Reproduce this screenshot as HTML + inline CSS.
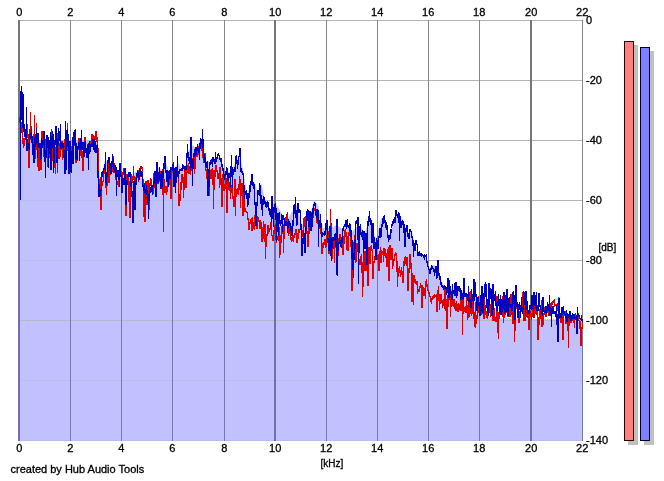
<!DOCTYPE html>
<html><head><meta charset="utf-8"><title>Spectrum</title><style>
html,body{margin:0;padding:0;background:#fff;}
body{width:664px;height:481px;overflow:hidden;}
svg{display:block;}
.t{font-family:"Liberation Sans",Arial,sans-serif;font-size:11px;fill:#000;stroke:#000;stroke-width:0.3px;}
.u{font-family:"Liberation Sans",Arial,sans-serif;font-size:10px;fill:#000;stroke:#000;stroke-width:0.3px;}
</style></head><body>
<svg width="664" height="481" viewBox="0 0 664 481" shape-rendering="crispEdges">
<rect width="664" height="481" fill="#fff"/>
<line x1="19" y1="20.5" x2="583" y2="20.5" stroke="#b4b4b4"/>
<line x1="19" y1="80.5" x2="583" y2="80.5" stroke="#b4b4b4"/>
<line x1="19" y1="140.5" x2="583" y2="140.5" stroke="#b4b4b4"/>
<line x1="19" y1="200.5" x2="583" y2="200.5" stroke="#b4b4b4"/>
<line x1="19" y1="260.5" x2="583" y2="260.5" stroke="#b4b4b4"/>
<line x1="19" y1="320.5" x2="583" y2="320.5" stroke="#b4b4b4"/>
<line x1="19" y1="380.5" x2="583" y2="380.5" stroke="#b4b4b4"/>
<line x1="19" y1="440.5" x2="583" y2="440.5" stroke="#b4b4b4"/>
<line x1="19" y1="20" x2="19" y2="441" stroke="#787878" stroke-width="2"/>
<line x1="70.5" y1="20" x2="70.5" y2="441" stroke="#888" stroke-width="1"/>
<line x1="121.5" y1="20" x2="121.5" y2="441" stroke="#888" stroke-width="1"/>
<line x1="172.5" y1="20" x2="172.5" y2="441" stroke="#888" stroke-width="1"/>
<line x1="224.5" y1="20" x2="224.5" y2="441" stroke="#888" stroke-width="1"/>
<line x1="275" y1="20" x2="275" y2="441" stroke="#787878" stroke-width="2"/>
<line x1="326.5" y1="20" x2="326.5" y2="441" stroke="#888" stroke-width="1"/>
<line x1="377.5" y1="20" x2="377.5" y2="441" stroke="#888" stroke-width="1"/>
<line x1="428.5" y1="20" x2="428.5" y2="441" stroke="#888" stroke-width="1"/>
<line x1="479.5" y1="20" x2="479.5" y2="441" stroke="#888" stroke-width="1"/>
<line x1="531" y1="20" x2="531" y2="441" stroke="#787878" stroke-width="2"/>
<line x1="582.5" y1="20" x2="582.5" y2="441" stroke="#888" stroke-width="1"/>
<clipPath id="fc"><polygon points="18,441 18,140 19,140 19.5,140 20,140 20.5,140 21,140 21.5,140 22,140 22.5,140 23,140 23.5,140 24,140 24.5,140 25,140 25.5,140 26,140 26.5,140 27,140 27.5,140 28,140 28.5,140 29,140 29.5,140 30,140 30.5,140 31,140 31.5,140 32,140 32.5,140 33,140 33.5,140 34,140 34.5,140 35,140 35.5,140 36,140 36.5,140 37,140 37.5,140 38,140 38.5,140 39,140 39.5,140 40,140 40.5,140 41,140 41.5,140 42,140 42.5,140 43,140 43.5,140 44,140 44.5,140 45,140 45.5,140 46,140 46.5,140 47,140 47.5,140 48,140 48.5,140 49,140 49.5,140 50,140 50.5,140 51,140 51.5,140 52,140 52.5,140 53,140 53.5,140 54,140 54.5,140 55,140 55.5,140 56,140 56.5,140 57,140 57.5,140 58,140 58.5,140 59,140 59.5,140 60,140 60.5,140 61,140 61.5,140 62,140 62.5,140 63,140 63.5,140 64,140 64.5,140 65,140 65.5,140 66,140 66.5,140 67,140 67.5,140 68,140 68.5,140 69,140 69.5,140 70,140 70.5,140 71,140 71.5,140 72,140 72.5,140 73,140 73.5,140 74,140 74.5,140 75,140 75.5,140 76,140 76.5,140 77,140 77.5,140 78,140 78.5,140 79,140 79.5,140 80,140 80.5,140 81,140 81.5,140 82,140 82.5,140 83,140 83.5,140 84,140 84.5,140 85,140 85.5,140 86,140 86.5,140 87,140 87.5,140 88,140 88.5,140 89,140 89.5,140 90,140 90.5,140 91,140 91.5,140 92,140 92.5,140 93,140 93.5,140 94,140 94.5,140 95,140 95.5,140 96,140 96.5,140 97,140 97.5,145 98,150 98.5,157.5 99,165 99.5,172.5 100,180 100.5,178 101,176 101.5,174 102,172 102.5,170 103,168 103.5,166 104,164 104.5,162 105,160 105.5,160.5 106,161 106.5,161.5 107,162 107.5,162.5 108,163 108.5,163.5 109,164 109.5,164.5 110,165 110.5,165.4 111,165.9 111.5,166.3 112,166.8 112.5,167.2 113,167.6 113.5,168.1 114,168.5 114.5,168.9 115,169.4 115.5,169.8 116,170.2 116.5,170.7 117,171.1 117.5,171.6 118,172 118.5,172.2 119,172.4 119.5,172.6 120,172.9 120.5,173.1 121,173.3 121.5,173.5 122,173.7 122.5,173.9 123,174.1 123.5,174.4 124,174.6 124.5,174.8 125,175 125.5,175.3 126,175.6 126.5,175.9 127,176.2 127.5,176.5 128,176.8 128.5,177.1 129,177.4 129.5,177.7 130,178 130.5,177.4 131,176.8 131.5,176.2 132,175.6 132.5,175 133,174.4 133.5,173.8 134,173.2 134.5,172.6 135,172 135.5,172 136,172 136.5,172 137,172 137.5,172 138,172 138.5,172 139,172 139.5,172 140,172 140.5,173.5 141,175 141.5,176.5 142,178 142.5,179.5 143,181 143.5,182.5 144,184 144.5,185.5 145,187 145.5,187.5 146,188 146.5,188.5 147,189 147.5,189.5 148,190 148.5,190.5 149,191 149.5,191.5 150,192 150.5,190.5 151,189 151.5,187.5 152,186 152.5,184.5 153,183 153.5,181.5 154,180 154.5,177.8 155,175.7 155.5,173.5 156,171.3 156.5,169.2 157,167 157.5,167.3 158,167.6 158.5,167.9 159,168.2 159.5,168.5 160,168.8 160.5,169.1 161,169.4 161.5,169.7 162,170 162.5,169 163,168 163.5,167 164,166 164.5,165 165,164 165.5,163 166,162 166.5,163.6 167,165.2 167.5,166.9 168,168.5 168.5,170.1 169,171.8 169.5,173.4 170,175 170.5,174.4 171,173.8 171.5,173.1 172,172.5 172.5,171.9 173,171.2 173.5,170.6 174,170 174.5,169 175,168 175.5,167 176,166 176.5,165 177,164 177.5,163 178,162 178.5,163 179,164 179.5,165 180,166 180.5,167 181,168 181.5,169 182,170 182.5,169.4 183,168.8 183.5,168.1 184,167.5 184.5,166.9 185,166.2 185.5,165.6 186,165 186.5,161.8 187,158.5 187.5,155.2 188,152 188.5,151.1 189,150.2 189.5,149.4 190,148.5 190.5,147.6 191,146.8 191.5,145.9 192,145 192.5,145.4 193,145.8 193.5,146.1 194,146.5 194.5,146.9 195,147.2 195.5,147.6 196,148 196.5,147.2 197,146.3 197.5,145.5 198,144.7 198.5,143.8 199,143 199.5,142.2 200,141.3 200.5,140.5 201,139.7 201.5,138.8 202,138 202.5,141.7 203,145.3 203.5,149 204,152.7 204.5,156.3 205,160 205.5,160.2 206,160.4 206.5,160.6 207,160.8 207.5,161 208,161.2 208.5,161.4 209,161.6 209.5,161.8 210,162 210.5,161.6 211,161.2 211.5,160.8 212,160.3 212.5,159.9 213,159.5 213.5,159.1 214,158.7 214.5,158.2 215,157.8 215.5,157.4 216,157 216.5,157 217,157 217.5,157 218,157 218.5,157 219,157 219.5,157 220,157 220.5,158.5 221,160 221.5,161.5 222,163 222.5,164.5 223,166 223.5,167.5 224,169 224.5,170.5 225,172 225.5,172 226,172 226.5,172 227,172 227.5,172 228,172 228.5,172 229,172 229.5,172 230,172 230.5,171.2 231,170.3 231.5,169.5 232,168.7 232.5,167.8 233,167 233.5,166.2 234,165.3 234.5,164.5 235,163.7 235.5,162.8 236,162 236.5,161.1 237,160.2 237.5,159.4 238,158.5 238.5,157.6 239,156.8 239.5,155.9 240,155 240.5,157.5 241,160 241.5,162.5 242,165 242.5,167.5 243,170 243.5,172.5 244,175 244.5,178.3 245,181.7 245.5,185 246,188.3 246.5,191.7 247,195 247.5,193.5 248,192 248.5,190.5 249,189 249.5,187.5 250,186 250.5,184.5 251,183 251.5,181.5 252,180 252.5,180.5 253,181 253.5,181.5 254,182 254.5,182.5 255,183 255.5,185 256,187 256.5,189 257,191 257.5,193 258,195 258.5,192.8 259,190.7 259.5,188.5 260,186.3 260.5,184.2 261,182 261.5,184.2 262,186.5 262.5,188.8 263,191 263.5,193.2 264,195.5 264.5,197.8 265,200 265.5,201 266,202 266.5,203 267,204 267.5,205 268,206 268.5,207 269,208 269.5,209 270,210 270.5,209 271,208 271.5,207 272,206 272.5,205 273,204 273.5,203 274,202 274.5,202.7 275,203.3 275.5,204 276,204.7 276.5,205.3 277,206 277.5,206.7 278,207.3 278.5,208 279,208.7 279.5,209.3 280,210 280.5,211 281,212 281.5,213 282,214 282.5,215 283,216 283.5,217 284,218 284.5,219 285,220 285.5,221 286,222 286.5,221.1 287,220.3 287.5,219.4 288,218.6 288.5,217.7 289,216.9 289.5,216 290,215.1 290.5,214.3 291,213.4 291.5,212.6 292,211.7 292.5,210.9 293,210 293.5,209.4 294,208.8 294.5,208.1 295,207.5 295.5,206.9 296,206.2 296.5,205.6 297,205 297.5,207 298,209 298.5,211 299,213 299.5,215 300,217 300.5,219 301,221 301.5,223 302,225 302.5,224.4 303,223.8 303.5,223.1 304,222.5 304.5,221.9 305,221.2 305.5,220.6 306,220 306.5,219.4 307,218.8 307.5,218.1 308,217.5 308.5,216.9 309,216.2 309.5,215.6 310,215 310.5,213.1 311,211.2 311.5,209.4 312,207.5 312.5,205.6 313,203.8 313.5,201.9 314,200 314.5,200.6 315,201.2 315.5,201.9 316,202.5 316.5,203.1 317,203.8 317.5,204.4 318,205 318.5,207.3 319,209.6 319.5,211.9 320,214.2 320.5,216.5 321,218.8 321.5,221.1 322,223.4 322.5,225.7 323,228 323.5,228 324,228 324.5,228 325,228 325.5,228 326,228 326.5,228 327,228 327.5,228 328,228 328.5,228 329,228 329.5,228 330,228 330.5,227.8 331,227.6 331.5,227.4 332,227.1 332.5,226.9 333,226.7 333.5,226.5 334,226.3 334.5,226.1 335,225.9 335.5,225.6 336,225.4 336.5,225.2 337,225 337.5,225.4 338,225.8 338.5,226.2 339,226.7 339.5,227.1 340,227.5 340.5,227.9 341,228.3 341.5,228.8 342,229.2 342.5,229.6 343,230 343.5,229 344,228 344.5,227 345,226 345.5,225 346,224 346.5,223 347,222 347.5,223 348,224 348.5,225 349,226 349.5,227 350,228 350.5,229 351,230 351.5,231 352,232 352.5,231.4 353,230.8 353.5,230.2 354,229.7 354.5,229.1 355,228.5 355.5,227.9 356,227.3 356.5,226.8 357,226.2 357.5,225.6 358,225 358.5,225.5 359,226 359.5,226.5 360,227 360.5,227.5 361,228 361.5,228.5 362,229 362.5,229.5 363,230 363.5,230.5 364,231 364.5,231.5 365,232 365.5,230.6 366,229.2 366.5,227.8 367,226.4 367.5,225 368,223.6 368.5,222.2 369,220.8 369.5,219.4 370,218 370.5,219.8 371,221.7 371.5,223.5 372,225.3 372.5,227.2 373,229 373.5,230.8 374,232.7 374.5,234.5 375,236.3 375.5,238.2 376,240 376.5,237.8 377,235.6 377.5,233.4 378,231.2 378.5,229 379,226.8 379.5,224.6 380,222.4 380.5,220.2 381,218 381.5,218.4 382,218.8 382.5,219.2 383,219.6 383.5,220 384,220.4 384.5,220.8 385,221.2 385.5,221.6 386,222 386.5,224.2 387,226.3 387.5,228.5 388,230.7 388.5,232.8 389,235 389.5,233.7 390,232.4 390.5,231.1 391,229.8 391.5,228.5 392,227.2 392.5,225.9 393,224.6 393.5,223.3 394,222 394.5,220.3 395,218.7 395.5,217 396,215.3 396.5,213.7 397,212 397.5,213 398,214 398.5,215 399,216 399.5,217 400,218 400.5,218.3 401,218.7 401.5,219 402,219.3 402.5,219.7 403,220 403.5,221.5 404,223 404.5,224.5 405,226 405.5,227.5 406,229 406.5,230.5 407,232 407.5,233.5 408,235 408.5,234.4 409,233.8 409.5,233.1 410,232.5 410.5,231.9 411,231.2 411.5,230.6 412,230 412.5,233 413,236 413.5,239 414,242 414.5,245 415,248 415.5,248.6 416,249.2 416.5,249.8 417,250.3 417.5,250.9 418,251.5 418.5,252.1 419,252.7 419.5,253.2 420,253.8 420.5,254.4 421,255 421.5,255.1 422,255.2 422.5,255.3 423,255.4 423.5,255.5 424,255.6 424.5,255.7 425,255.8 425.5,255.9 426,256 426.5,258 427,260 427.5,262 428,264 428.5,266 429,268 429.5,267.5 430,267 430.5,266.5 431,266 431.5,265.5 432,265 432.5,265.1 433,265.2 433.5,265.3 434,265.4 434.5,265.5 435,265.6 435.5,265.7 436,265.8 436.5,265.9 437,266 437.5,267.6 438,269.2 438.5,270.8 439,272.4 439.5,274 440,275.6 440.5,277.2 441,278.8 441.5,280.4 442,282 442.5,282.6 443,283.2 443.5,283.8 444,284.4 444.5,285 445,285.6 445.5,286.2 446,286.8 446.5,287.4 447,288 447.5,288.1 448,288.2 448.5,288.4 449,288.5 449.5,288.6 450,288.8 450.5,288.9 451,289 451.5,289.1 452,289.2 452.5,289.4 453,289.5 453.5,289.6 454,289.8 454.5,289.9 455,290 455.5,290 456,290 456.5,290 457,290 457.5,290 458,290 458.5,290 459,290 459.5,290 460,290 460.5,290 461,290 461.5,290 462,290 462.5,290.7 463,291.3 463.5,292 464,292.7 464.5,293.3 465,294 465.5,294.7 466,295.3 466.5,296 467,296.7 467.5,297.3 468,298 468.5,297.8 469,297.6 469.5,297.4 470,297.1 470.5,296.9 471,296.7 471.5,296.5 472,296.3 472.5,296.1 473,295.9 473.5,295.6 474,295.4 474.5,295.2 475,295 475.5,296 476,297 476.5,298 477,299 477.5,300 478,301 478.5,302 479,303 479.5,304 480,305 480.5,305.9 481,306.8 481.5,307.7 482,308.6 482.5,309.5 483,310.4 483.5,311.3 484,312.2 484.5,313.1 485,314 485.5,314.2 486,314.4 486.5,314.6 487,314.8 487.5,315 488,315.2 488.5,315.4 489,315.6 489.5,315.8 490,316 490.5,316.2 491,316.4 491.5,316.6 492,316.8 492.5,317 493,317.2 493.5,317.4 494,317.6 494.5,317.8 495,318 495.5,318 496,318 496.5,318 497,318 497.5,318.1 498,318.1 498.5,318.1 499,318.1 499.5,318.1 500,318.1 500.5,318.1 501,318.1 501.5,318.1 502,318.2 502.5,318.2 503,318.2 503.5,318.2 504,318.2 504.5,318.2 505,318.2 505.5,318.2 506,318.3 506.5,318.3 507,318.3 507.5,318.3 508,318.3 508.5,318.3 509,318.3 509.5,318.3 510,318.3 510.5,318.4 511,318.4 511.5,318.4 512,318.4 512.5,318.4 513,318.4 513.5,318.4 514,318.4 514.5,318.4 515,318.5 515.5,318.5 516,318.5 516.5,318.5 517,318.5 517.5,318.5 518,318.5 518.5,318.5 519,318.6 519.5,318.6 520,318.6 520.5,318.6 521,318.6 521.5,318.6 522,318.6 522.5,318.6 523,318.6 523.5,318.7 524,318.7 524.5,318.7 525,318.7 525.5,318.7 526,318.7 526.5,318.7 527,318.7 527.5,318.7 528,318.8 528.5,318.8 529,318.8 529.5,318.8 530,318.8 530.5,318.8 531,318.8 531.5,318.8 532,318.9 532.5,318.9 533,318.9 533.5,318.9 534,318.9 534.5,318.9 535,318.9 535.5,318.9 536,318.9 536.5,319 537,319 537.5,319 538,319 538.5,319 539,319 539.5,319 540,319 540.5,319 541,319.1 541.5,319.1 542,319.1 542.5,319.1 543,319.1 543.5,319.1 544,319.1 544.5,319.1 545,319.1 545.5,319.2 546,319.2 546.5,319.2 547,319.2 547.5,319.2 548,319.2 548.5,319.2 549,319.2 549.5,319.3 550,319.3 550.5,319.3 551,319.3 551.5,319.3 552,319.3 552.5,319.3 553,319.3 553.5,319.3 554,319.4 554.5,319.4 555,319.4 555.5,319.4 556,319.4 556.5,319.4 557,319.4 557.5,319.4 558,319.4 558.5,319.5 559,319.5 559.5,319.5 560,319.5 560.5,319.5 561,319.5 561.5,319.5 562,319.5 562.5,319.6 563,319.6 563.5,319.6 564,319.6 564.5,319.6 565,319.6 565.5,319.6 566,319.6 566.5,319.6 567,319.7 567.5,319.7 568,319.7 568.5,319.7 569,319.7 569.5,319.7 570,319.7 570.5,319.7 571,319.7 571.5,319.8 572,319.8 572.5,319.8 573,319.8 573.5,319.8 574,319.8 574.5,319.8 575,319.8 575.5,319.9 576,319.9 576.5,319.9 577,319.9 577.5,319.9 578,319.9 578.5,319.9 579,319.9 579.5,319.9 580,320 580.5,320 581,320 581.5,320 582,320 583,320 583,441"/></clipPath>
<polygon points="18,441 18,140 19,140 19.5,140 20,140 20.5,140 21,140 21.5,140 22,140 22.5,140 23,140 23.5,140 24,140 24.5,140 25,140 25.5,140 26,140 26.5,140 27,140 27.5,140 28,140 28.5,140 29,140 29.5,140 30,140 30.5,140 31,140 31.5,140 32,140 32.5,140 33,140 33.5,140 34,140 34.5,140 35,140 35.5,140 36,140 36.5,140 37,140 37.5,140 38,140 38.5,140 39,140 39.5,140 40,140 40.5,140 41,140 41.5,140 42,140 42.5,140 43,140 43.5,140 44,140 44.5,140 45,140 45.5,140 46,140 46.5,140 47,140 47.5,140 48,140 48.5,140 49,140 49.5,140 50,140 50.5,140 51,140 51.5,140 52,140 52.5,140 53,140 53.5,140 54,140 54.5,140 55,140 55.5,140 56,140 56.5,140 57,140 57.5,140 58,140 58.5,140 59,140 59.5,140 60,140 60.5,140 61,140 61.5,140 62,140 62.5,140 63,140 63.5,140 64,140 64.5,140 65,140 65.5,140 66,140 66.5,140 67,140 67.5,140 68,140 68.5,140 69,140 69.5,140 70,140 70.5,140 71,140 71.5,140 72,140 72.5,140 73,140 73.5,140 74,140 74.5,140 75,140 75.5,140 76,140 76.5,140 77,140 77.5,140 78,140 78.5,140 79,140 79.5,140 80,140 80.5,140 81,140 81.5,140 82,140 82.5,140 83,140 83.5,140 84,140 84.5,140 85,140 85.5,140 86,140 86.5,140 87,140 87.5,140 88,140 88.5,140 89,140 89.5,140 90,140 90.5,140 91,140 91.5,140 92,140 92.5,140 93,140 93.5,140 94,140 94.5,140 95,140 95.5,140 96,140 96.5,140 97,140 97.5,145 98,150 98.5,157.5 99,165 99.5,172.5 100,180 100.5,178 101,176 101.5,174 102,172 102.5,170 103,168 103.5,166 104,164 104.5,162 105,160 105.5,160.5 106,161 106.5,161.5 107,162 107.5,162.5 108,163 108.5,163.5 109,164 109.5,164.5 110,165 110.5,165.4 111,165.9 111.5,166.3 112,166.8 112.5,167.2 113,167.6 113.5,168.1 114,168.5 114.5,168.9 115,169.4 115.5,169.8 116,170.2 116.5,170.7 117,171.1 117.5,171.6 118,172 118.5,172.2 119,172.4 119.5,172.6 120,172.9 120.5,173.1 121,173.3 121.5,173.5 122,173.7 122.5,173.9 123,174.1 123.5,174.4 124,174.6 124.5,174.8 125,175 125.5,175.3 126,175.6 126.5,175.9 127,176.2 127.5,176.5 128,176.8 128.5,177.1 129,177.4 129.5,177.7 130,178 130.5,177.4 131,176.8 131.5,176.2 132,175.6 132.5,175 133,174.4 133.5,173.8 134,173.2 134.5,172.6 135,172 135.5,172 136,172 136.5,172 137,172 137.5,172 138,172 138.5,172 139,172 139.5,172 140,172 140.5,173.5 141,175 141.5,176.5 142,178 142.5,179.5 143,181 143.5,182.5 144,184 144.5,185.5 145,187 145.5,187.5 146,188 146.5,188.5 147,189 147.5,189.5 148,190 148.5,190.5 149,191 149.5,191.5 150,192 150.5,190.5 151,189 151.5,187.5 152,186 152.5,184.5 153,183 153.5,181.5 154,180 154.5,177.8 155,175.7 155.5,173.5 156,171.3 156.5,169.2 157,167 157.5,167.3 158,167.6 158.5,167.9 159,168.2 159.5,168.5 160,168.8 160.5,169.1 161,169.4 161.5,169.7 162,170 162.5,169 163,168 163.5,167 164,166 164.5,165 165,164 165.5,163 166,162 166.5,163.6 167,165.2 167.5,166.9 168,168.5 168.5,170.1 169,171.8 169.5,173.4 170,175 170.5,174.4 171,173.8 171.5,173.1 172,172.5 172.5,171.9 173,171.2 173.5,170.6 174,170 174.5,169 175,168 175.5,167 176,166 176.5,165 177,164 177.5,163 178,162 178.5,163 179,164 179.5,165 180,166 180.5,167 181,168 181.5,169 182,170 182.5,169.4 183,168.8 183.5,168.1 184,167.5 184.5,166.9 185,166.2 185.5,165.6 186,165 186.5,161.8 187,158.5 187.5,155.2 188,152 188.5,151.1 189,150.2 189.5,149.4 190,148.5 190.5,147.6 191,146.8 191.5,145.9 192,145 192.5,145.4 193,145.8 193.5,146.1 194,146.5 194.5,146.9 195,147.2 195.5,147.6 196,148 196.5,147.2 197,146.3 197.5,145.5 198,144.7 198.5,143.8 199,143 199.5,142.2 200,141.3 200.5,140.5 201,139.7 201.5,138.8 202,138 202.5,141.7 203,145.3 203.5,149 204,152.7 204.5,156.3 205,160 205.5,160.2 206,160.4 206.5,160.6 207,160.8 207.5,161 208,161.2 208.5,161.4 209,161.6 209.5,161.8 210,162 210.5,161.6 211,161.2 211.5,160.8 212,160.3 212.5,159.9 213,159.5 213.5,159.1 214,158.7 214.5,158.2 215,157.8 215.5,157.4 216,157 216.5,157 217,157 217.5,157 218,157 218.5,157 219,157 219.5,157 220,157 220.5,158.5 221,160 221.5,161.5 222,163 222.5,164.5 223,166 223.5,167.5 224,169 224.5,170.5 225,172 225.5,172 226,172 226.5,172 227,172 227.5,172 228,172 228.5,172 229,172 229.5,172 230,172 230.5,171.2 231,170.3 231.5,169.5 232,168.7 232.5,167.8 233,167 233.5,166.2 234,165.3 234.5,164.5 235,163.7 235.5,162.8 236,162 236.5,161.1 237,160.2 237.5,159.4 238,158.5 238.5,157.6 239,156.8 239.5,155.9 240,155 240.5,157.5 241,160 241.5,162.5 242,165 242.5,167.5 243,170 243.5,172.5 244,175 244.5,178.3 245,181.7 245.5,185 246,188.3 246.5,191.7 247,195 247.5,193.5 248,192 248.5,190.5 249,189 249.5,187.5 250,186 250.5,184.5 251,183 251.5,181.5 252,180 252.5,180.5 253,181 253.5,181.5 254,182 254.5,182.5 255,183 255.5,185 256,187 256.5,189 257,191 257.5,193 258,195 258.5,192.8 259,190.7 259.5,188.5 260,186.3 260.5,184.2 261,182 261.5,184.2 262,186.5 262.5,188.8 263,191 263.5,193.2 264,195.5 264.5,197.8 265,200 265.5,201 266,202 266.5,203 267,204 267.5,205 268,206 268.5,207 269,208 269.5,209 270,210 270.5,209 271,208 271.5,207 272,206 272.5,205 273,204 273.5,203 274,202 274.5,202.7 275,203.3 275.5,204 276,204.7 276.5,205.3 277,206 277.5,206.7 278,207.3 278.5,208 279,208.7 279.5,209.3 280,210 280.5,211 281,212 281.5,213 282,214 282.5,215 283,216 283.5,217 284,218 284.5,219 285,220 285.5,221 286,222 286.5,221.1 287,220.3 287.5,219.4 288,218.6 288.5,217.7 289,216.9 289.5,216 290,215.1 290.5,214.3 291,213.4 291.5,212.6 292,211.7 292.5,210.9 293,210 293.5,209.4 294,208.8 294.5,208.1 295,207.5 295.5,206.9 296,206.2 296.5,205.6 297,205 297.5,207 298,209 298.5,211 299,213 299.5,215 300,217 300.5,219 301,221 301.5,223 302,225 302.5,224.4 303,223.8 303.5,223.1 304,222.5 304.5,221.9 305,221.2 305.5,220.6 306,220 306.5,219.4 307,218.8 307.5,218.1 308,217.5 308.5,216.9 309,216.2 309.5,215.6 310,215 310.5,213.1 311,211.2 311.5,209.4 312,207.5 312.5,205.6 313,203.8 313.5,201.9 314,200 314.5,200.6 315,201.2 315.5,201.9 316,202.5 316.5,203.1 317,203.8 317.5,204.4 318,205 318.5,207.3 319,209.6 319.5,211.9 320,214.2 320.5,216.5 321,218.8 321.5,221.1 322,223.4 322.5,225.7 323,228 323.5,228 324,228 324.5,228 325,228 325.5,228 326,228 326.5,228 327,228 327.5,228 328,228 328.5,228 329,228 329.5,228 330,228 330.5,227.8 331,227.6 331.5,227.4 332,227.1 332.5,226.9 333,226.7 333.5,226.5 334,226.3 334.5,226.1 335,225.9 335.5,225.6 336,225.4 336.5,225.2 337,225 337.5,225.4 338,225.8 338.5,226.2 339,226.7 339.5,227.1 340,227.5 340.5,227.9 341,228.3 341.5,228.8 342,229.2 342.5,229.6 343,230 343.5,229 344,228 344.5,227 345,226 345.5,225 346,224 346.5,223 347,222 347.5,223 348,224 348.5,225 349,226 349.5,227 350,228 350.5,229 351,230 351.5,231 352,232 352.5,231.4 353,230.8 353.5,230.2 354,229.7 354.5,229.1 355,228.5 355.5,227.9 356,227.3 356.5,226.8 357,226.2 357.5,225.6 358,225 358.5,225.5 359,226 359.5,226.5 360,227 360.5,227.5 361,228 361.5,228.5 362,229 362.5,229.5 363,230 363.5,230.5 364,231 364.5,231.5 365,232 365.5,230.6 366,229.2 366.5,227.8 367,226.4 367.5,225 368,223.6 368.5,222.2 369,220.8 369.5,219.4 370,218 370.5,219.8 371,221.7 371.5,223.5 372,225.3 372.5,227.2 373,229 373.5,230.8 374,232.7 374.5,234.5 375,236.3 375.5,238.2 376,240 376.5,237.8 377,235.6 377.5,233.4 378,231.2 378.5,229 379,226.8 379.5,224.6 380,222.4 380.5,220.2 381,218 381.5,218.4 382,218.8 382.5,219.2 383,219.6 383.5,220 384,220.4 384.5,220.8 385,221.2 385.5,221.6 386,222 386.5,224.2 387,226.3 387.5,228.5 388,230.7 388.5,232.8 389,235 389.5,233.7 390,232.4 390.5,231.1 391,229.8 391.5,228.5 392,227.2 392.5,225.9 393,224.6 393.5,223.3 394,222 394.5,220.3 395,218.7 395.5,217 396,215.3 396.5,213.7 397,212 397.5,213 398,214 398.5,215 399,216 399.5,217 400,218 400.5,218.3 401,218.7 401.5,219 402,219.3 402.5,219.7 403,220 403.5,221.5 404,223 404.5,224.5 405,226 405.5,227.5 406,229 406.5,230.5 407,232 407.5,233.5 408,235 408.5,234.4 409,233.8 409.5,233.1 410,232.5 410.5,231.9 411,231.2 411.5,230.6 412,230 412.5,233 413,236 413.5,239 414,242 414.5,245 415,248 415.5,248.6 416,249.2 416.5,249.8 417,250.3 417.5,250.9 418,251.5 418.5,252.1 419,252.7 419.5,253.2 420,253.8 420.5,254.4 421,255 421.5,255.1 422,255.2 422.5,255.3 423,255.4 423.5,255.5 424,255.6 424.5,255.7 425,255.8 425.5,255.9 426,256 426.5,258 427,260 427.5,262 428,264 428.5,266 429,268 429.5,267.5 430,267 430.5,266.5 431,266 431.5,265.5 432,265 432.5,265.1 433,265.2 433.5,265.3 434,265.4 434.5,265.5 435,265.6 435.5,265.7 436,265.8 436.5,265.9 437,266 437.5,267.6 438,269.2 438.5,270.8 439,272.4 439.5,274 440,275.6 440.5,277.2 441,278.8 441.5,280.4 442,282 442.5,282.6 443,283.2 443.5,283.8 444,284.4 444.5,285 445,285.6 445.5,286.2 446,286.8 446.5,287.4 447,288 447.5,288.1 448,288.2 448.5,288.4 449,288.5 449.5,288.6 450,288.8 450.5,288.9 451,289 451.5,289.1 452,289.2 452.5,289.4 453,289.5 453.5,289.6 454,289.8 454.5,289.9 455,290 455.5,290 456,290 456.5,290 457,290 457.5,290 458,290 458.5,290 459,290 459.5,290 460,290 460.5,290 461,290 461.5,290 462,290 462.5,290.7 463,291.3 463.5,292 464,292.7 464.5,293.3 465,294 465.5,294.7 466,295.3 466.5,296 467,296.7 467.5,297.3 468,298 468.5,297.8 469,297.6 469.5,297.4 470,297.1 470.5,296.9 471,296.7 471.5,296.5 472,296.3 472.5,296.1 473,295.9 473.5,295.6 474,295.4 474.5,295.2 475,295 475.5,296 476,297 476.5,298 477,299 477.5,300 478,301 478.5,302 479,303 479.5,304 480,305 480.5,305.9 481,306.8 481.5,307.7 482,308.6 482.5,309.5 483,310.4 483.5,311.3 484,312.2 484.5,313.1 485,314 485.5,314.2 486,314.4 486.5,314.6 487,314.8 487.5,315 488,315.2 488.5,315.4 489,315.6 489.5,315.8 490,316 490.5,316.2 491,316.4 491.5,316.6 492,316.8 492.5,317 493,317.2 493.5,317.4 494,317.6 494.5,317.8 495,318 495.5,318 496,318 496.5,318 497,318 497.5,318.1 498,318.1 498.5,318.1 499,318.1 499.5,318.1 500,318.1 500.5,318.1 501,318.1 501.5,318.1 502,318.2 502.5,318.2 503,318.2 503.5,318.2 504,318.2 504.5,318.2 505,318.2 505.5,318.2 506,318.3 506.5,318.3 507,318.3 507.5,318.3 508,318.3 508.5,318.3 509,318.3 509.5,318.3 510,318.3 510.5,318.4 511,318.4 511.5,318.4 512,318.4 512.5,318.4 513,318.4 513.5,318.4 514,318.4 514.5,318.4 515,318.5 515.5,318.5 516,318.5 516.5,318.5 517,318.5 517.5,318.5 518,318.5 518.5,318.5 519,318.6 519.5,318.6 520,318.6 520.5,318.6 521,318.6 521.5,318.6 522,318.6 522.5,318.6 523,318.6 523.5,318.7 524,318.7 524.5,318.7 525,318.7 525.5,318.7 526,318.7 526.5,318.7 527,318.7 527.5,318.7 528,318.8 528.5,318.8 529,318.8 529.5,318.8 530,318.8 530.5,318.8 531,318.8 531.5,318.8 532,318.9 532.5,318.9 533,318.9 533.5,318.9 534,318.9 534.5,318.9 535,318.9 535.5,318.9 536,318.9 536.5,319 537,319 537.5,319 538,319 538.5,319 539,319 539.5,319 540,319 540.5,319 541,319.1 541.5,319.1 542,319.1 542.5,319.1 543,319.1 543.5,319.1 544,319.1 544.5,319.1 545,319.1 545.5,319.2 546,319.2 546.5,319.2 547,319.2 547.5,319.2 548,319.2 548.5,319.2 549,319.2 549.5,319.3 550,319.3 550.5,319.3 551,319.3 551.5,319.3 552,319.3 552.5,319.3 553,319.3 553.5,319.3 554,319.4 554.5,319.4 555,319.4 555.5,319.4 556,319.4 556.5,319.4 557,319.4 557.5,319.4 558,319.4 558.5,319.5 559,319.5 559.5,319.5 560,319.5 560.5,319.5 561,319.5 561.5,319.5 562,319.5 562.5,319.6 563,319.6 563.5,319.6 564,319.6 564.5,319.6 565,319.6 565.5,319.6 566,319.6 566.5,319.6 567,319.7 567.5,319.7 568,319.7 568.5,319.7 569,319.7 569.5,319.7 570,319.7 570.5,319.7 571,319.7 571.5,319.8 572,319.8 572.5,319.8 573,319.8 573.5,319.8 574,319.8 574.5,319.8 575,319.8 575.5,319.9 576,319.9 576.5,319.9 577,319.9 577.5,319.9 578,319.9 578.5,319.9 579,319.9 579.5,319.9 580,320 580.5,320 581,320 581.5,320 582,320 583,320 583,441" fill="#c2c1ff" shape-rendering="geometricPrecision"/>
<g clip-path="url(#fc)">
<line x1="19" y1="80.5" x2="583" y2="80.5" stroke="#bbbbf0"/>
<line x1="19" y1="140.5" x2="583" y2="140.5" stroke="#bbbbf0"/>
<line x1="19" y1="200.5" x2="583" y2="200.5" stroke="#bbbbf0"/>
<line x1="19" y1="260.5" x2="583" y2="260.5" stroke="#bbbbf0"/>
<line x1="19" y1="320.5" x2="583" y2="320.5" stroke="#b4b8cc"/>
<line x1="19" y1="380.5" x2="583" y2="380.5" stroke="#bbbbf0"/>
<line x1="19" y1="440.5" x2="583" y2="440.5" stroke="#bbbbf0"/>
<line x1="19" y1="20" x2="19" y2="441" stroke="#7070a8" stroke-width="2"/>
<line x1="70.5" y1="20" x2="70.5" y2="441" stroke="#7878b0" stroke-width="1"/>
<line x1="121.5" y1="20" x2="121.5" y2="441" stroke="#7878b0" stroke-width="1"/>
<line x1="172.5" y1="20" x2="172.5" y2="441" stroke="#7878b0" stroke-width="1"/>
<line x1="224.5" y1="20" x2="224.5" y2="441" stroke="#7878b0" stroke-width="1"/>
<line x1="275" y1="20" x2="275" y2="441" stroke="#7070a8" stroke-width="2"/>
<line x1="326.5" y1="20" x2="326.5" y2="441" stroke="#7878b0" stroke-width="1"/>
<line x1="377.5" y1="20" x2="377.5" y2="441" stroke="#7878b0" stroke-width="1"/>
<line x1="428.5" y1="20" x2="428.5" y2="441" stroke="#7878b0" stroke-width="1"/>
<line x1="479.5" y1="20" x2="479.5" y2="441" stroke="#7878b0" stroke-width="1"/>
<line x1="531" y1="20" x2="531" y2="441" stroke="#7070a8" stroke-width="2"/>
<line x1="582.5" y1="20" x2="582.5" y2="441" stroke="#7878b0" stroke-width="1"/>
</g>
<polyline points="20,117 20.5,133.5 21,132.3 21.5,127.3 22,122.3 22.5,127.3 23,141.9 23.5,148.4 24,141.6 24.5,145.9 25,138.4 25.5,136.6 26,131.6 26.5,127.3 27,125.5 27.5,124.9 28,137 28.5,138.5 29,167.8 29.5,147.3 30,137 30.5,112 31,130.5 31.5,130.2 32,138.3 32.5,136 33,153.7 33.5,134.4 34,143.8 34.5,115 35,157.9 35.5,157.9 36,140.5 36.5,123 37,142.1 37.5,167.4 38,158 38.5,138.4 39,171 39.5,147 40,144.2 40.5,158.5 41,170.2 41.5,149.8 42,131.5 42.5,140.2 43,142.7 43.5,151.4 44,156.5 44.5,146.9 45,147.3 45.5,158.6 46,140.9 46.5,135.3 47,137.2 47.5,139.9 48,167 48.5,158.4 49,143.9 49.5,142.8 50,158.1 50.5,143.5 51,141.4 51.5,129 52,138.6 52.5,161.2 53,135.7 53.5,139.3 54,167.8 54.5,141.9 55,160 55.5,173.9 56,157.6 56.5,126 57,136 57.5,173.4 58,139.7 58.5,138.4 59,159 59.5,144.2 60,143.5 60.5,156.7 61,147.6 61.5,145.2 62,141.3 62.5,160.4 63,148.9 63.5,158.1 64,150.4 64.5,172.5 65,140.4 65.5,137.4 66,137.4 66.5,133.4 67,134.5 67.5,123 68,148.8 68.5,156 69,140.6 69.5,157.6 70,151.8 70.5,161 71,145.8 71.5,146.9 72,153.6 72.5,143.9 73,144.4 73.5,153.3 74,137.4 74.5,142.4 75,146.2 75.5,129 76,163 76.5,148.3 77,155.7 77.5,161.3 78,146.2 78.5,150 79,137.6 79.5,144 80,152.6 80.5,145.2 81,155.8 81.5,149.4 82,151.2 82.5,170.6 83,155.9 83.5,170.5 84,152.5 84.5,145.3 85,137 85.5,151.3 86,150.2 86.5,154.7 87,157.9 87.5,149.9 88,144.8 88.5,143.2 89,147.7 89.5,143.8 90,146.9 90.5,149.6 91,142.7 91.5,139.2 92,133.8 92.5,138.7 93,137.7 93.5,149.1 94,138.7 94.5,136.3 95,140.2 95.5,138.2 96,131 96.5,140.9 97,139.9 97.5,136.9 98,151.5 98.5,172.5 99,185.3 99.5,185.6 100,180.1 100.5,176.7 101,210.3 101.5,188.3 102,184.7 102.5,181.9 103,181.5 103.5,181.6 104,170.9 104.5,168.8 105,171.9 105.5,172.8 106,185.1 106.5,194.6 107,182.6 107.5,176.4 108,163.2 108.5,169.1 109,182.7 109.5,168.8 110,174.5 110.5,171.1 111,170.8 111.5,169.7 112,164.4 112.5,171.7 113,156 113.5,168.7 114,172.8 114.5,163.2 115,165.7 115.5,167.9 116,176.5 116.5,187.8 117,181.6 117.5,184 118,185 118.5,178.4 119,171.5 119.5,167.3 120,174.4 120.5,175.5 121,170.8 121.5,185.5 122,178.2 122.5,173 123,173.9 123.5,170 124,168.6 124.5,170.2 125,173.8 125.5,194.9 126,216 126.5,174.4 127,174.6 127.5,179.8 128,177.7 128.5,177.6 129,201.8 129.5,181.3 130,217.5 130.5,176.3 131,175.6 131.5,179.6 132,183.2 132.5,178.4 133,180.4 133.5,166 134,180.2 134.5,178.2 135,189.6 135.5,197.9 136,176.8 136.5,182.2 137,176.8 137.5,177.3 138,170.3 138.5,181.6 139,176.6 139.5,178.2 140,176.1 140.5,173.6 141,166.5 141.5,168.2 142,167.8 142.5,169.6 143,183 143.5,184.2 144,217.4 144.5,182.8 145,221.6 145.5,183.8 146,181.3 146.5,186.9 147,204.9 147.5,185.8 148,179.7 148.5,182 149,210.1 149.5,186.2 150,185.7 150.5,177.9 151,179.1 151.5,187.4 152,188.7 152.5,194.1 153,193.9 153.5,173.9 154,174.1 154.5,187.7 155,185.3 155.5,193.8 156,173.8 156.5,185.6 157,182.7 157.5,178.7 158,175 158.5,184.1 159,177.4 159.5,178.3 160,181.7 160.5,176.6 161,171 161.5,180.9 162,172.1 162.5,168.7 163,177.1 163.5,232 164,178.7 164.5,184.1 165,187.3 165.5,190.8 166,192.5 166.5,195.4 167,191 167.5,175.4 168,174.2 168.5,178.9 169,177.3 169.5,185.1 170,177.3 170.5,180.7 171,199 171.5,170.4 172,166.6 172.5,172.5 173,172.2 173.5,168.5 174,173.4 174.5,182.5 175,180.2 175.5,175.4 176,178.9 176.5,180.4 177,176.1 177.5,175.7 178,175.2 178.5,181.1 179,205.8 179.5,197.1 180,200.5 180.5,181.9 181,184.7 181.5,189.5 182,174.4 182.5,180.6 183,176.8 183.5,198 184,187.7 184.5,172.6 185,166 185.5,172 186,188.4 186.5,172.3 187,165.9 187.5,173.4 188,166.2 188.5,163.1 189,173.7 189.5,169.5 190,165.6 190.5,174.7 191,164.3 191.5,166.6 192,171.1 192.5,165 193,159.7 193.5,154 194,157.4 194.5,173.8 195,166.6 195.5,156.2 196,151.7 196.5,152.1 197,156.6 197.5,153.3 198,145.9 198.5,151.2 199,154.9 199.5,148.4 200,147.3 200.5,141.7 201,142 201.5,145.6 202,147.1 202.5,157.8 203,144.3 203.5,143.2 204,162.9 204.5,154.2 205,154 205.5,165.7 206,169.8 206.5,169.4 207,177.2 207.5,176.3 208,171.3 208.5,171.5 209,196 209.5,173.5 210,170.1 210.5,172.7 211,179.1 211.5,170.5 212,169.5 212.5,173.3 213,174.4 213.5,209 214,169.8 214.5,190.3 215,172.2 215.5,171.3 216,165.2 216.5,168.9 217,170 217.5,177.1 218,178.1 218.5,175.5 219,173.4 219.5,188.4 220,167.1 220.5,174.9 221,179.7 221.5,194 222,207 222.5,175.9 223,174.5 223.5,178.2 224,190.6 224.5,187.9 225,189.4 225.5,172.8 226,180 226.5,182.6 227,212.6 227.5,188.8 228,180.9 228.5,189.5 229,189.7 229.5,186.4 230,181.7 230.5,198.9 231,188.4 231.5,193.1 232,184.9 232.5,188.1 233,198.7 233.5,195.8 234,207 234.5,187.7 235,179.1 235.5,215.8 236,190.1 236.5,189.9 237,191.3 237.5,188.2 238,193.5 238.5,193.9 239,188.4 239.5,176.5 240,179.6 240.5,208.4 241,191.4 241.5,186.3 242,182.6 242.5,189.4 243,216 243.5,185.1 244,192.4 244.5,212.2 245,207.7 245.5,211.7 246,211.4 246.5,212.4 247,212.4 247.5,214.5 248,219.6 248.5,222.2 249,229.5 249.5,224.5 250,223 250.5,220 251,219.6 251.5,218.5 252,231.4 252.5,217.4 253,224 253.5,221.9 254,228.7 254.5,229.7 255,216.6 255.5,211.9 256,215.5 256.5,220.6 257,229.4 257.5,216.3 258,217.5 258.5,221 259,220.6 259.5,220.6 260,228.8 260.5,221 261,222 261.5,228.8 262,242.3 262.5,235.6 263,230.7 263.5,220.9 264,237 264.5,242 265,224.3 265.5,259 266,242.8 266.5,239.3 267,235 267.5,231.2 268,225.4 268.5,234.3 269,230.7 269.5,227.8 270,229.6 270.5,227.7 271,221.6 271.5,232.6 272,235.3 272.5,236.5 273,240.9 273.5,231.7 274,232.3 274.5,226.4 275,225.1 275.5,224.1 276,238.1 276.5,243.3 277,236.6 277.5,238.1 278,239.1 278.5,233.8 279,227 279.5,258.4 280,250.4 280.5,255 281,238.4 281.5,229.5 282,226.9 282.5,223.3 283,224.2 283.5,253.4 284,233.7 284.5,221.5 285,220.7 285.5,217.6 286,220.6 286.5,218.2 287,214.9 287.5,212.5 288,221.4 288.5,235.5 289,233.1 289.5,225.8 290,225 290.5,230.4 291,239.2 291.5,241.8 292,239.1 292.5,241.3 293,235 293.5,241.5 294,237.2 294.5,236.6 295,233.8 295.5,231.8 296,229 296.5,230.6 297,243 297.5,233.3 298,239.2 298.5,231.4 299,229.1 299.5,232.8 300,230.6 300.5,230.5 301,227.9 301.5,228.8 302,236.6 302.5,232.5 303,230.7 303.5,229.6 304,218 304.5,226.8 305,217.4 305.5,215.7 306,230.5 306.5,222.9 307,233.8 307.5,231.6 308,247 308.5,215.7 309,234.4 309.5,222.8 310,217.1 310.5,218.8 311,224.3 311.5,212.3 312,216.8 312.5,217 313,217.3 313.5,212.7 314,208.5 314.5,209.8 315,208.7 315.5,213.1 316,211.9 316.5,223.4 317,212.8 317.5,212.6 318,219.6 318.5,231.8 319,221 319.5,224.2 320,227.6 320.5,232.8 321,232.2 321.5,231.1 322,254 322.5,246.1 323,242.6 323.5,247.6 324,241.6 324.5,242.8 325,239.2 325.5,247.4 326,246.2 326.5,238.6 327,235 327.5,236.4 328,240.3 328.5,230.7 329,254 329.5,251.2 330,236.5 330.5,209 331,228.2 331.5,241.9 332,258.7 332.5,237.3 333,238.9 333.5,242.5 334,241.9 334.5,263 335,242.4 335.5,246.9 336,243.5 336.5,255.9 337,241.6 337.5,236.1 338,256.2 338.5,238.2 339,239.3 339.5,237.8 340,234 340.5,237.9 341,245 341.5,236.6 342,243.2 342.5,231.5 343,255 343.5,236 344,243.6 344.5,236.5 345,230.3 345.5,229.7 346,232.7 346.5,246.5 347,249.9 347.5,235.7 348,250.8 348.5,242.8 349,233.8 349.5,229 350,229.7 350.5,245.2 351,246.1 351.5,241.8 352,290.8 352.5,246 353,246.1 353.5,262.6 354,245.3 354.5,235.3 355,240.8 355.5,262.8 356,261.1 356.5,242.8 357,251.6 357.5,251.8 358,242.8 358.5,259.2 359,260.7 359.5,258.7 360,264.6 360.5,257.4 361,256.5 361.5,263.4 362,261.6 362.5,296.5 363,283.6 363.5,252.5 364,252.2 364.5,251.7 365,271 365.5,251.2 366,271.1 366.5,255.8 367,248 367.5,274.7 368,285.5 368.5,252.2 369,247.5 369.5,252.3 370,263.6 370.5,247.1 371,246.5 371.5,250 372,250.6 372.5,249.1 373,278.6 373.5,263.9 374,262.4 374.5,257.8 375,257.3 375.5,253.6 376,255.9 376.5,255.1 377,257.4 377.5,260.1 378,256.5 378.5,253.6 379,271 379.5,258.3 380,252.6 380.5,247.5 381,263.2 381.5,250 382,251.2 382.5,252.8 383,251 383.5,261.8 384,247.6 384.5,252.4 385,256 385.5,249.2 386,254.8 386.5,264.5 387,266.7 387.5,263.1 388,249.9 388.5,247.1 389,280.8 389.5,247.2 390,245 390.5,247.7 391,259.7 391.5,257.9 392,247.6 392.5,269.1 393,265.3 393.5,262.1 394,260.2 394.5,258.1 395,255.6 395.5,251.8 396,255 396.5,253.1 397,264.1 397.5,287 398,269.7 398.5,277.2 399,268.8 399.5,267.6 400,270.7 400.5,277.1 401,273.9 401.5,267.1 402,272.4 402.5,272.3 403,283.3 403.5,275.2 404,262.7 404.5,263.2 405,257.5 405.5,257.1 406,262.7 406.5,265.8 407,257.1 407.5,269.1 408,291.3 408.5,277.9 409,271.7 409.5,258.9 410,253.8 410.5,258.7 411,265.1 411.5,276 412,301.6 412.5,273.4 413,275.6 413.5,305.2 414,274.9 414.5,277.2 415,279.3 415.5,279.3 416,283.1 416.5,284.9 417,280.8 417.5,293.6 418,289.1 418.5,289.4 419,291.6 419.5,289.1 420,287.8 420.5,283 421,285.7 421.5,292.6 422,307.7 422.5,285.2 423,287.5 423.5,291.6 424,296.2 424.5,293.4 425,287.8 425.5,298.8 426,281.8 426.5,279.5 427,286.1 427.5,289.9 428,290.6 428.5,290.7 429,293.2 429.5,294.9 430,296 430.5,298.9 431,301.5 431.5,302.7 432,298.9 432.5,297.7 433,296.3 433.5,298.4 434,295.2 434.5,297.5 435,295.1 435.5,295.8 436,296.7 436.5,293.8 437,312 437.5,302.9 438,291.6 438.5,286.1 439,296.4 439.5,310.2 440,297.8 440.5,304.2 441,293.7 441.5,296.9 442,300.9 442.5,308.4 443,305.5 443.5,303.9 444,298.8 444.5,308.5 445,289.4 445.5,302.5 446,310.9 446.5,299.3 447,329 447.5,295.4 448,307.3 448.5,301.7 449,297.6 449.5,289.1 450,291.7 450.5,317 451,300 451.5,306.7 452,296.2 452.5,294.9 453,305.4 453.5,306.6 454,299.2 454.5,308.6 455,303.8 455.5,304.1 456,311 456.5,300.9 457,304.8 457.5,306.5 458,311.8 458.5,303.2 459,310.1 459.5,305.4 460,306.4 460.5,310.7 461,294.2 461.5,307.2 462,298.7 462.5,335 463,306.3 463.5,294.3 464,312.1 464.5,308.9 465,309.1 465.5,309.1 466,312.7 466.5,293.8 467,308.8 467.5,318.6 468,317.9 468.5,315.6 469,298.7 469.5,317.2 470,293.2 470.5,291 471,313.2 471.5,314.4 472,311.4 472.5,296.8 473,313.6 473.5,300.1 474,316.1 474.5,326.7 475,327 475.5,301.9 476,324 476.5,314.7 477,318.5 477.5,318.1 478,311.4 478.5,296 479,313.3 479.5,310.5 480,305 480.5,315.2 481,304.9 481.5,311.5 482,313.8 482.5,313.5 483,313.1 483.5,310.6 484,319 484.5,295 485,312.7 485.5,305.5 486,313.4 486.5,317.1 487,317.8 487.5,313.7 488,316.4 488.5,307.4 489,289 489.5,311.2 490,311.4 490.5,317.2 491,308.4 491.5,294.3 492,311.8 492.5,301.2 493,320.6 493.5,302.9 494,310.1 494.5,317 495,320.1 495.5,321.3 496,321.2 496.5,307.1 497,295.8 497.5,322.9 498,330 498.5,338.7 499,311.7 499.5,317.2 500,307.1 500.5,313.4 501,301.7 501.5,302.2 502,304.8 502.5,295.7 503,314.6 503.5,322.8 504,316 504.5,316.4 505,314.5 505.5,296 506,312.7 506.5,299.8 507,310.9 507.5,312.7 508,316.7 508.5,310.5 509,306.8 509.5,311.3 510,316.5 510.5,314 511,294 511.5,299.6 512,314 512.5,313.7 513,324.1 513.5,296.3 514,315.6 514.5,342.3 515,327 515.5,312.5 516,299.2 516.5,302.5 517,309.4 517.5,306.9 518,314.6 518.5,311.7 519,322.8 519.5,310.8 520,318.3 520.5,316 521,310.5 521.5,311 522,308.4 522.5,292.5 523,296.6 523.5,313 524,321 524.5,302.5 525,321.4 525.5,305.8 526,309 526.5,317.4 527,303 527.5,309.6 528,316.3 528.5,322.5 529,330 529.5,322 530,311 530.5,317 531,315.5 531.5,319.5 532,315.4 532.5,307.4 533,304.3 533.5,315.8 534,316.4 534.5,318.2 535,297 535.5,306.9 536,313.8 536.5,314 537,304.6 537.5,308.7 538,340 538.5,338.7 539,319.7 539.5,310.3 540,309.6 540.5,319 541,311.1 541.5,299.9 542,327 542.5,315.4 543,324.6 543.5,314.8 544,314.7 544.5,309.4 545,307.3 545.5,311.1 546,317.1 546.5,310.7 547,310.3 547.5,313.1 548,310.4 548.5,314.5 549,315.4 549.5,311.4 550,314.6 550.5,303.2 551,310.3 551.5,302.3 552,304.6 552.5,301.4 553,303.2 553.5,299.9 554,301.5 554.5,300.7 555,305.5 555.5,304.9 556,304 556.5,305.2 557,310.8 557.5,306.2 558,306 558.5,297.2 559,301.5 559.5,307.1 560,317.7 560.5,317.1 561,322.5 561.5,311.3 562,314 562.5,329 563,340 563.5,314.8 564,311.9 564.5,315.7 565,312.7 565.5,310.8 566,324.1 566.5,322.4 567,318.5 567.5,313 568,323.7 568.5,348 569,317.7 569.5,316.8 570,316.2 570.5,318.2 571,322.7 571.5,315.6 572,316 572.5,313.9 573,320.7 573.5,316.7 574,321.1 574.5,328 575,317.7 575.5,315.3 576,316.6 576.5,320.6 577,334 577.5,319.2 578,313.3 578.5,319.8 579,320.4 579.5,322.7 580,320.9 580.5,343.5 581,345.5 581.5,326.7 582,329 582.5,323.2" fill="none" stroke="#e00000" stroke-width="1.3"/>
<polyline points="20.5,200 21,93.3 21.5,86.4 22,93.4 22.5,127.8 23,94 23.5,105.8 24,130.3 24.5,136.3 25,136.8 25.5,130.3 26,140.3 26.5,107 27,151.1 27.5,138.7 28,145.3 28.5,147.6 29,148.7 29.5,142.4 30,134.4 30.5,132.8 31,138.6 31.5,128.9 32,138.5 32.5,153.3 33,152.4 33.5,143.7 34,162.6 34.5,136.8 35,140 35.5,147.2 36,137.5 36.5,128.5 37,137.6 37.5,158 38,132.7 38.5,143.9 39,147.1 39.5,145.9 40,142.6 40.5,160 41,158.9 41.5,137.9 42,141.6 42.5,148.4 43,140.2 43.5,145.4 44,131 44.5,162.1 45,150.1 45.5,177.5 46,150.9 46.5,147.4 47,135.4 47.5,136.6 48,137.6 48.5,167.5 49,145.9 49.5,154.1 50,144.2 50.5,132.3 51,170 51.5,135.9 52,145.5 52.5,130.8 53,135.7 53.5,172.5 54,160 54.5,139.9 55,144.9 55.5,142 56,126 56.5,144.4 57,162.9 57.5,147.2 58,145.4 58.5,127.8 59,135.7 59.5,141.2 60,133.9 60.5,124.5 61,149.2 61.5,142.7 62,147.8 62.5,143.9 63,143.8 63.5,144 64,152.9 64.5,168.1 65,174 65.5,121.4 66,132.9 66.5,170.3 67,139.3 67.5,129 68,136.4 68.5,165.6 69,174 69.5,143.6 70,140.7 70.5,148.7 71,170.8 71.5,172.8 72,158 72.5,137 73,164 73.5,132.5 74,145.1 74.5,139.1 75,130 75.5,140.1 76,159.1 76.5,143.1 77,160 77.5,151.5 78,147.8 78.5,142.6 79,143 79.5,160.5 80,146.3 80.5,140.5 81,141.5 81.5,130 82,150.1 82.5,141.8 83,142.9 83.5,149.8 84,157.4 84.5,149.4 85,142.6 85.5,141.3 86,150.4 86.5,157 87,158.2 87.5,146 88,145.2 88.5,170 89,148.2 89.5,140.6 90,152 90.5,148.9 91,143.6 91.5,144.8 92,147.3 92.5,142.2 93,139.5 93.5,143.3 94,148.7 94.5,152.2 95,141.4 95.5,142.3 96,153.3 96.5,146.3 97,145.8 97.5,154.6 98,177.2 98.5,179 99,197.4 99.5,184.1 100,195.8 100.5,193 101,189.8 101.5,187.6 102,172.8 102.5,172.4 103,172.4 103.5,169.6 104,168.4 104.5,168.8 105,170.3 105.5,152.5 106,181.3 106.5,185.3 107,173.5 107.5,170.2 108,160 108.5,159.4 109,157.5 109.5,171.3 110,163.1 110.5,167.6 111,173.1 111.5,174.3 112,164.5 112.5,154 113,162 113.5,158.5 114,166.9 114.5,172 115,164.7 115.5,167.8 116,167.9 116.5,195.8 117,170.5 117.5,172.5 118,174 118.5,170.4 119,177 119.5,187.1 120,163 120.5,174 121,176.7 121.5,174.9 122,192.5 122.5,182.4 123,178.6 123.5,180.4 124,185 124.5,181 125,168 125.5,190.4 126,204.5 126.5,195.2 127,181.1 127.5,179.6 128,176 128.5,171.9 129,173.7 129.5,174.7 130,172.1 130.5,187 131,182.2 131.5,197.2 132,190.7 132.5,196.2 133,223 133.5,193.1 134,180.9 134.5,191.3 135,210.1 135.5,187.8 136,181.5 136.5,185 137,174.2 137.5,170.6 138,172.4 138.5,179 139,179 139.5,168.5 140,175.6 140.5,172.3 141,170.6 141.5,176.5 142,171.7 142.5,184 143,185 143.5,191.3 144,186.6 144.5,183.4 145,190.5 145.5,198.6 146,193.6 146.5,185 147,191.9 147.5,191.7 148,195.4 148.5,219 149,194.4 149.5,195.9 150,191.4 150.5,191.9 151,188.3 151.5,185.3 152,190.3 152.5,195 153,184.7 153.5,186.9 154,183.4 154.5,175.9 155,170.7 155.5,174.5 156,197.3 156.5,168.8 157,162.2 157.5,168.5 158,182.7 158.5,172.4 159,179.6 159.5,167 160,176.3 160.5,174.6 161,189.2 161.5,171.4 162,173.6 162.5,186.7 163,174.2 163.5,163.5 164,168.8 164.5,166.4 165,155.6 165.5,163.7 166,172.3 166.5,173.9 167,182 167.5,169.8 168,176.4 168.5,187.3 169,171.7 169.5,171.3 170,179 170.5,171.7 171,168.5 171.5,169 172,169 172.5,170 173,164.9 173.5,162.1 174,186.8 174.5,169.4 175,168.7 175.5,192.7 176,179.2 176.5,171.5 177,172.5 177.5,155.6 178,176.8 178.5,177.2 179,172.9 179.5,169.8 180,169.3 180.5,170.1 181,170 181.5,169.2 182,170.7 182.5,169.5 183,165.1 183.5,166.3 184,168.1 184.5,170.3 185,166 185.5,167.9 186,170.2 186.5,161.8 187,156.8 187.5,144.4 188,155.3 188.5,153.7 189,158.9 189.5,163.7 190,158.7 190.5,169.5 191,137.5 191.5,157.1 192,159.4 192.5,185.6 193,163.8 193.5,157.1 194,153.4 194.5,156.5 195,150.9 195.5,146.7 196,155.3 196.5,149.3 197,148.4 197.5,144.1 198,150 198.5,151.4 199,148.4 199.5,159.5 200,145.9 200.5,137.8 201,141.2 201.5,142.2 202,143.4 202.5,129.4 203,142.2 203.5,160.4 204,154 204.5,163.3 205,157 205.5,164 206,166 206.5,167.4 207,161.7 207.5,163.2 208,196 208.5,169.5 209,187.1 209.5,168.8 210,163.2 210.5,160.5 211,160.3 211.5,158.8 212,161.9 212.5,166.8 213,157.1 213.5,160.7 214,159.7 214.5,163 215,163.2 215.5,152.5 216,159.7 216.5,161.6 217,157.9 217.5,156.3 218,154.1 218.5,153.7 219,155.6 219.5,155.6 220,158.9 220.5,162.3 221,159.9 221.5,159 222,165.2 222.5,169.5 223,168.7 223.5,169.4 224,177.3 224.5,178.2 225,174.9 225.5,172.5 226,173.2 226.5,167.3 227,168.9 227.5,173.6 228,180.5 228.5,176.5 229,173.2 229.5,175.9 230,172.6 230.5,187.1 231,171.3 231.5,155 232,171.7 232.5,188.2 233,169.8 233.5,173.3 234,170.1 234.5,166.6 235,172.1 235.5,163.5 236,155.6 236.5,158.6 237,160.9 237.5,169.2 238,162.7 238.5,157.3 239,156.7 239.5,154.2 240,148 240.5,157.8 241,172.3 241.5,168.6 242,171.9 242.5,175.1 243,173.1 243.5,174.3 244,188.4 244.5,199.4 245,191.3 245.5,194.5 246,191.8 246.5,191.2 247,194.1 247.5,207 248,202.6 248.5,204.7 249,195.3 249.5,186.9 250,185.9 250.5,192.1 251,182.9 251.5,177.7 252,174.3 252.5,175.7 253,184.4 253.5,184 254,184.7 254.5,197.8 255,203.2 255.5,209.6 256,226.1 256.5,202.5 257,206.4 257.5,194 258,189.6 258.5,193.9 259,194.5 259.5,183.5 260,186 260.5,201.6 261,203.6 261.5,194.8 262,207.2 262.5,215.8 263,201 263.5,195.6 264,199.1 264.5,198.2 265,202.5 265.5,207.3 266,202.4 266.5,202.5 267,206.9 267.5,206.5 268,202 268.5,202.5 269,210.6 269.5,210.6 270,214.9 270.5,215.7 271,209.2 271.5,221.9 272,196 272.5,210.1 273,215.5 273.5,227.4 274,207.2 274.5,205.7 275,204.9 275.5,213.6 276,208.5 276.5,241 277,229.2 277.5,214.4 278,212.7 278.5,236.1 279,219 279.5,211.8 280,223.3 280.5,224.3 281,223.4 281.5,214.4 282,217.5 282.5,231.7 283,214.9 283.5,215.9 284,219.3 284.5,222.4 285,226.2 285.5,224.4 286,221.2 286.5,224 287,222.5 287.5,233.3 288,225.9 288.5,219 289,222.2 289.5,225.6 290,222.7 290.5,231.4 291,225.7 291.5,234 292,235.8 292.5,223.3 293,226 293.5,208.1 294,204.9 294.5,213.7 295,207 295.5,197.5 296,214.6 296.5,226.1 297,224.7 297.5,220 298,203.5 298.5,205.4 299,213.3 299.5,209.1 300,211 300.5,213.2 301,227.9 301.5,235.5 302,256.1 302.5,249 303,241.6 303.5,229.6 304,233.9 304.5,237.6 305,252.9 305.5,234.4 306,229.6 306.5,220 307,211.4 307.5,209.1 308,221.1 308.5,209.7 309,226.8 309.5,223.7 310,210.7 310.5,222.1 311,231.4 311.5,213.2 312,216.5 312.5,227.4 313,209.1 313.5,206.6 314,204.1 314.5,203.2 315,203.5 315.5,210.4 316,212.7 316.5,218.3 317,209.3 317.5,216.9 318,210.3 318.5,246.6 319,220 319.5,222.3 320,224.1 320.5,214.5 321,226 321.5,231.6 322,236.9 322.5,232.1 323,234.3 323.5,234.2 324,233.7 324.5,236.3 325,234.7 325.5,223.2 326,229.9 326.5,228.5 327,220 327.5,225.9 328,241.9 328.5,244.7 329,250.5 329.5,233.4 330,226 330.5,233.3 331,253.2 331.5,261.2 332,238.1 332.5,247.6 333,237.9 333.5,237.8 334,239.5 334.5,233.6 335,238.7 335.5,234.2 336,233 336.5,275.3 337,219 337.5,276 338,242 338.5,245.4 339,243.9 339.5,238.4 340,241.5 340.5,240 341,247 341.5,247.5 342,241.2 342.5,230.6 343,228.8 343.5,229.5 344,226.6 344.5,226.5 345,226.3 345.5,219.9 346,226.1 346.5,228.7 347,220.2 347.5,220.1 348,226.3 348.5,227.4 349,227.3 349.5,223.3 350,230.5 350.5,224 351,236.9 351.5,230.3 352,259 352.5,239.9 353,266.9 353.5,277.5 354,253.4 354.5,251 355,248.6 355.5,224.8 356,221 356.5,220.5 357,220.4 357.5,232.7 358,217.5 358.5,284 359,225.9 359.5,252.9 360,228.1 360.5,223.6 361,234.7 361.5,236.7 362,232.7 362.5,231.8 363,233.2 363.5,253.2 364,231.1 364.5,232.9 365,249.4 365.5,238.1 366,232.9 366.5,241.8 367,265.2 367.5,239 368,221.2 368.5,222.9 369,219.4 369.5,210.6 370,222.1 370.5,219.6 371,220.5 371.5,233.1 372,243 372.5,224.8 373,223.3 373.5,230.2 374,248.5 374.5,236.7 375,244.7 375.5,246.2 376,260 376.5,237.8 377,244.6 377.5,240.1 378,248.8 378.5,241.2 379,236.5 379.5,234.6 380,228.2 380.5,238.3 381,236.8 381.5,223.6 382,227.2 382.5,219.9 383,218.7 383.5,224 384,216.8 384.5,215.5 385,221.1 385.5,227.7 386,222.8 386.5,223.4 387,226.3 387.5,237.8 388,234.6 388.5,241.8 389,239 389.5,235 390,236.6 390.5,239.3 391,230 391.5,228.5 392,225.6 392.5,221.5 393,221.3 393.5,223.6 394,220.3 394.5,216.6 395,223.1 395.5,214.9 396,210.4 396.5,213.1 397,214.9 397.5,213.7 398,218.4 398.5,213.4 399,213.9 399.5,241 400,216.4 400.5,221.8 401,228 401.5,221.1 402,224.2 402.5,222.9 403,221.1 403.5,222.1 404,232.7 404.5,224 405,246.6 405.5,228.2 406,231.8 406.5,230.2 407,225.4 407.5,237.2 408,233.8 408.5,233.8 409,239.1 409.5,231.6 410,229.4 410.5,230.3 411,231.7 411.5,233.2 412,237.6 412.5,239.4 413,241 413.5,257 414,243.1 414.5,245.6 415,250.7 415.5,242.4 416,240.5 416.5,242.3 417,244.2 417.5,247.5 418,256.2 418.5,253.4 419,252.2 419.5,251.6 420,255.1 420.5,254 421,253.5 421.5,255.2 422,254.3 422.5,255.7 423,255.6 423.5,256.8 424,256.4 424.5,257.7 425,255.1 425.5,255.7 426,255.1 426.5,258.1 427,262.4 427.5,264.7 428,266.6 428.5,267.5 429,269.3 429.5,271 430,273 430.5,273 431,267.9 431.5,270.2 432,266.5 432.5,267 433,268.7 433.5,268.6 434,269.9 434.5,275.7 435,271.6 435.5,270.7 436,265.9 436.5,278 437,277.1 437.5,271.8 438,260 438.5,275.6 439,272.9 439.5,279.6 440,276.6 440.5,276.4 441,284.4 441.5,285.6 442,285.9 442.5,288.3 443,285.8 443.5,287.7 444,286.1 444.5,284.7 445,288.9 445.5,287.2 446,287.5 446.5,293.3 447,292.4 447.5,285.5 448,278.5 448.5,293.3 449,298 449.5,280.2 450,288.6 450.5,294.7 451,291.3 451.5,293.7 452,300.1 452.5,284.3 453,292 453.5,293.5 454,293.3 454.5,283.1 455,295.6 455.5,288.1 456,281.8 456.5,297.5 457,295.6 457.5,289.5 458,286.2 458.5,291.4 459,286.7 459.5,286.5 460,289.1 460.5,297.7 461,299.7 461.5,290.2 462,294.2 462.5,294 463,298 463.5,299.4 464,278 464.5,291.5 465,296.7 465.5,294.7 466,296.1 466.5,294.6 467,296.8 467.5,294.5 468,301.1 468.5,286.5 469,301.8 469.5,297.9 470,299.2 470.5,305.8 471,307.5 471.5,288.7 472,300 472.5,293.6 473,299.9 473.5,304.4 474,279 474.5,301.2 475,282 475.5,296.8 476,294.8 476.5,295.2 477,310.8 477.5,299.5 478,296.9 478.5,306.2 479,301.7 479.5,306.3 480,316.1 480.5,295.2 481,306.1 481.5,311.4 482,285.8 482.5,305.2 483,312.8 483.5,305.5 484,297.2 484.5,285 485,284 485.5,293.9 486,297.1 486.5,283.8 487,305.6 487.5,311.5 488,311.4 488.5,315.8 489,283.5 489.5,306.4 490,295.7 490.5,287.8 491,290 491.5,304.8 492,315.9 492.5,313 493,284 493.5,309.8 494,297.4 494.5,300.6 495,295.2 495.5,290.9 496,306 496.5,306.7 497,310.3 497.5,310.1 498,304.3 498.5,294.4 499,300.5 499.5,311.1 500,313.6 500.5,294.8 501,315.2 501.5,298.7 502,312.4 502.5,306.5 503,300.3 503.5,308.7 504,292.3 504.5,314.4 505,295 505.5,300.2 506,311.6 506.5,305.2 507,288.7 507.5,302.1 508,315.6 508.5,298.2 509,300.6 509.5,297.5 510,306.1 510.5,307.2 511,307.3 511.5,303.9 512,311 512.5,296.6 513,292.5 513.5,292 514,295.8 514.5,320.3 515,319.2 515.5,302 516,285 516.5,307.1 517,303.2 517.5,301.7 518,317.8 518.5,304.1 519,305.8 519.5,302.1 520,305.8 520.5,318.2 521,309.1 521.5,296.8 522,310.2 522.5,314.2 523,308.9 523.5,307.2 524,292.6 524.5,293.3 525,300.4 525.5,315.9 526,291.1 526.5,309.5 527,300.9 527.5,317.1 528,310.1 528.5,310.2 529,313.7 529.5,315.6 530,305.2 530.5,308.3 531,309 531.5,306.1 532,295.1 532.5,306 533,305.4 533.5,318.1 534,292 534.5,304.8 535,305.8 535.5,294.6 536,304 536.5,292 537,311.1 537.5,309.1 538,310.8 538.5,309 539,293 539.5,306.9 540,304.6 540.5,308.9 541,309.1 541.5,311.4 542,314.1 542.5,314.6 543,297.4 543.5,312.4 544,309.7 544.5,311.8 545,312.1 545.5,305.9 546,307.3 546.5,313.8 547,308.1 547.5,301.7 548,311.1 548.5,305.3 549,308.9 549.5,295.4 550,315.6 550.5,307 551,308.4 551.5,326.7 552,309 552.5,313.2 553,305.8 553.5,313.2 554,313 554.5,310.7 555,314 555.5,310.6 556,316.5 556.5,305.2 557,317.4 557.5,341 558,341 558.5,314.9 559,298 559.5,316 560,317.1 560.5,312.7 561,318.3 561.5,309.5 562,307 562.5,313.9 563,313.7 563.5,306 564,312.6 564.5,313.8 565,314.4 565.5,316.8 566,318.2 566.5,310.5 567,321.6 567.5,314.3 568,314.6 568.5,318.3 569,316.5 569.5,317.5 570,311.4 570.5,319.9 571,320.1 571.5,315 572,319.1 572.5,313.1 573,317.9 573.5,314.4 574,319 574.5,313.8 575,319.4 575.5,318.2 576,317.6 576.5,315.2 577,334 577.5,307.2 578,316.3 578.5,316.3 579,315.6 579.5,316.8 580,318.7 580.5,319.7 581,319.8 581.5,314.9 582,320.3 582.5,323.3" fill="none" stroke="#0000c0" stroke-width="1.3"/>
<text x="19.2" y="16" text-anchor="middle" class="t">0</text>
<text x="19.2" y="452" text-anchor="middle" class="t">0</text>
<text x="70.2" y="16" text-anchor="middle" class="t">2</text>
<text x="70.2" y="452" text-anchor="middle" class="t">2</text>
<text x="121.2" y="16" text-anchor="middle" class="t">4</text>
<text x="121.2" y="452" text-anchor="middle" class="t">4</text>
<text x="172.2" y="16" text-anchor="middle" class="t">6</text>
<text x="172.2" y="452" text-anchor="middle" class="t">6</text>
<text x="224.2" y="16" text-anchor="middle" class="t">8</text>
<text x="224.2" y="452" text-anchor="middle" class="t">8</text>
<text x="275.2" y="16" text-anchor="middle" class="t">10</text>
<text x="275.2" y="452" text-anchor="middle" class="t">10</text>
<text x="326.2" y="16" text-anchor="middle" class="t">12</text>
<text x="326.2" y="452" text-anchor="middle" class="t">12</text>
<text x="377.2" y="16" text-anchor="middle" class="t">14</text>
<text x="377.2" y="452" text-anchor="middle" class="t">14</text>
<text x="428.2" y="16" text-anchor="middle" class="t">16</text>
<text x="428.2" y="452" text-anchor="middle" class="t">16</text>
<text x="479.2" y="16" text-anchor="middle" class="t">18</text>
<text x="479.2" y="452" text-anchor="middle" class="t">18</text>
<text x="531.2" y="16" text-anchor="middle" class="t">20</text>
<text x="531.2" y="452" text-anchor="middle" class="t">20</text>
<text x="582.2" y="16" text-anchor="middle" class="t">22</text>
<text x="582.2" y="452" text-anchor="middle" class="t">22</text>
<text x="586" y="24" class="t">0</text>
<text x="586" y="84" class="t">-20</text>
<text x="586" y="144" class="t">-40</text>
<text x="586" y="204" class="t">-60</text>
<text x="586" y="264" class="t">-80</text>
<text x="586" y="324" class="t">-100</text>
<text x="586" y="384" class="t">-120</text>
<text x="586" y="444" class="t">-140</text>
<text x="598.5" y="250.6" class="u">[dB]</text>
<text x="320.5" y="467" class="u">[kHz]</text>
<text x="10.5" y="473" class="t">created by Hub Audio Tools</text>
<rect x="628" y="45" width="10" height="400" fill="#c0c0c0"/>
<rect x="624.5" y="41.5" width="9" height="399" fill="#ff8080" stroke="#300000"/>
<rect x="644" y="51" width="10" height="394" fill="#c0c0c0"/>
<rect x="640.5" y="47.5" width="9" height="393" fill="#8080ff" stroke="#000030"/>
</svg>
</body></html>
